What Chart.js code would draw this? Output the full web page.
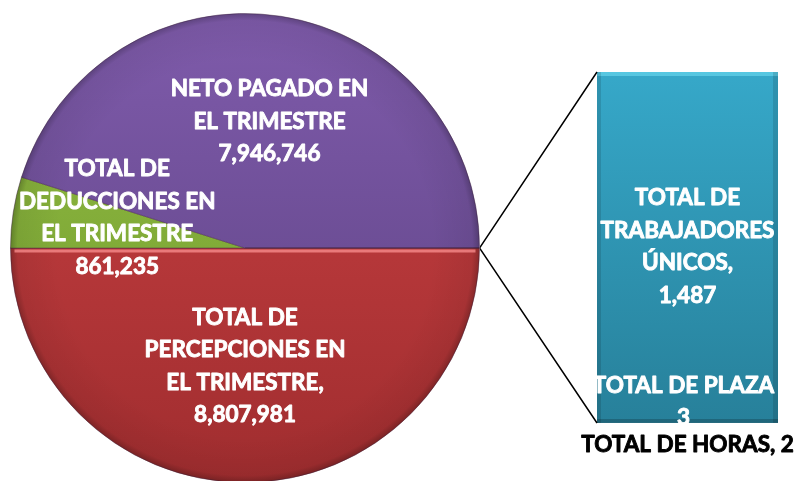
<!DOCTYPE html>
<html>
<head>
<meta charset="utf-8">
<script src="https://cdn.jsdelivr.net/npm/chart.js@4"></script>
<style>
  html, body { margin: 0; padding: 0; background: #fff; overflow: hidden; }
  #wrap { position: relative; width: 797px; height: 481px; }
  #pieCanvas { position: absolute; left: 0; top: 0; }
  #barCanvas { position: absolute; left: 480px; top: 0; }
</style>
</head>
<body>
<div id="wrap">
  <canvas id="pieCanvas" width="490" height="500"></canvas>
  <canvas id="barCanvas" width="317" height="481"></canvas>
</div>
<script>
// datos del pastel (el ultimo valor es la porcion "otro" que se abre en la barra)
let pieLabels = ['TOTAL DE PERCEPCIONES EN EL TRIMESTRE', 'TOTAL DE DEDUCCIONES EN EL TRIMESTRE', 'NETO PAGADO EN EL TRIMESTRE', 'OTRO']
let pieValues = [8807981, 861235, 7946746, 1492]
let pieText = [
    ['TOTAL DE', 'PERCEPCIONES EN', 'EL TRIMESTRE,', '8,807,981'],
    ['TOTAL DE', 'DEDUCCIONES EN', 'EL TRIMESTRE', '861,235'],
    ['NETO PAGADO EN', 'EL TRIMESTRE', '7,946,746'],
    []
]
let pieTop = ['#cc4244', '#94bd44', '#7f5bab', '#3aa6c6']
let pieBottom = ['#a02d2f', '#6e992c', '#5b4181', '#2a7e95']

// datos de la barra
let barLabels = ['TOTAL DE HORAS', 'TOTAL DE PLAZA', 'TOTAL DE TRABAJADORES ÚNICOS']
let barValues = [2, 3, 1487]
let barText = [
    ['TOTAL DE HORAS, 2'],
    ['TOTAL DE PLAZA', '3'],
    ['TOTAL DE', 'TRABAJADORES', 'ÚNICOS,', '1,487']
]

let labelFont = 'bold 22.5px Lato'
let lineH = 32.5

function drawLines(ctx, lines, cx, cy, color) {
    ctx.save()
    ctx.font = labelFont
    ctx.fillStyle = color
    ctx.strokeStyle = color
    ctx.lineWidth = 0.9
    ctx.lineJoin = 'round'
    ctx.textAlign = 'center'
    ctx.textBaseline = 'middle'
    let y0 = cy - (lines.length - 1) * lineH / 2
    lines.forEach((t, i) => {
        ctx.fillText(t, cx, y0 + i * lineH)
        ctx.strokeText(t, cx, y0 + i * lineH)
    })
    ctx.restore()
}

function sliceGradient(c) {
    let ch = c.chart
    let area = ch.chartArea
    if (!area) return pieTop[c.dataIndex]
    let g = ch.ctx.createLinearGradient(0, area.top, 0, area.bottom)
    g.addColorStop(0, pieTop[c.dataIndex])
    g.addColorStop(1, pieBottom[c.dataIndex])
    return g
}

// posicion de etiquetas: fraccion del radio y pequeño ajuste
let pieLabelR = [0.5, 0.56, 0.545, 0]
let pieLabelDx = [0, 2, 5, 0]
let pieLabelDy = [1, -10, 0, 0]

let pieLabelPlugin = {
    id: 'pieLabelPlugin',
    afterDatasetsDraw(chart) {
        let ctx = chart.ctx
        let arcs = chart.getDatasetMeta(0).data
        // borde sombreado
        let a0 = arcs[0]
        ctx.save()
        let rg = ctx.createRadialGradient(a0.x, a0.y, a0.outerRadius * 0.8, a0.x, a0.y, a0.outerRadius)
        rg.addColorStop(0, 'rgba(0,0,0,0)')
        rg.addColorStop(0.85, 'rgba(0,0,0,0.06)')
        rg.addColorStop(1, 'rgba(0,0,0,0.25)')
        ctx.fillStyle = rg
        ctx.beginPath()
        ctx.arc(a0.x, a0.y, a0.outerRadius, 0, Math.PI * 2)
        ctx.fill()
        // brillo en el borde superior de la porcion roja
        ctx.strokeStyle = 'rgba(255,150,150,0.7)'
        ctx.lineWidth = 3
        ctx.beginPath()
        ctx.moveTo(a0.x - a0.outerRadius + 4, a0.y + 3)
        ctx.lineTo(a0.x + a0.outerRadius - 4, a0.y + 3)
        ctx.stroke()
        ctx.restore()
        arcs.forEach((arc, i) => {
            if (!pieText[i].length) return
            let mid = (arc.startAngle + arc.endAngle) / 2
            let r = arc.outerRadius * pieLabelR[i]
            drawLines(ctx, pieText[i], arc.x + Math.cos(mid) * r + pieLabelDx[i], arc.y + Math.sin(mid) * r + pieLabelDy[i], '#fff')
        })
    }
}

let pieChart = new Chart(document.getElementById('pieCanvas').getContext('2d'), {
    type: 'pie',
    data: {
        labels: pieLabels,
        datasets: [{
            data: pieValues,
            backgroundColor: sliceGradient,
            borderColor: 'rgba(70,40,70,0.45)',
            borderWidth: 1
        }]
    },
    options: {
        responsive: false,
        animation: false,
        rotation: 90,
        layout: { padding: { top: 13, bottom: 17, left: 0, right: 0 } },
        plugins: { legend: { display: false }, tooltip: { enabled: false } }
    },
    plugins: [pieLabelPlugin]
})

function barGradient(c) {
    let area = c.chart.chartArea
    if (!area) return '#3aa6c6'
    let g = c.chart.ctx.createLinearGradient(0, area.top, 0, area.bottom)
    g.addColorStop(0, '#36a8c9')
    g.addColorStop(1, '#27809a')
    return g
}

let barPlugin = {
    id: 'barPlugin',
    afterDatasetsDraw(chart) {
        let ctx = chart.ctx
        let area = chart.chartArea
        // lineas de conexion desde el borde derecho del pastel
        let pa = pieChart.getDatasetMeta(0).data[3]
        let canvasLeft = document.getElementById('barCanvas').offsetLeft
        let px = pa.x + pa.outerRadius - canvasLeft
        let py = pa.y
        ctx.save()
        // bisel
        ctx.fillStyle = 'rgba(120,230,250,0.5)'
        ctx.fillRect(area.left, area.top, area.right - area.left, 4)
        ctx.fillStyle = 'rgba(0,0,0,0.12)'
        ctx.fillRect(area.left, area.top, 4, area.bottom - area.top)
        ctx.fillRect(area.right - 5, area.top, 5, area.bottom - area.top)
        ctx.fillStyle = 'rgba(0,0,0,0.2)'
        ctx.fillRect(area.left, area.bottom - 4, area.right - area.left, 4)
        ctx.strokeStyle = '#000'
        ctx.lineWidth = 1.5
        ctx.beginPath()
        ctx.moveTo(area.left, area.top)
        ctx.lineTo(px, py)
        ctx.lineTo(area.left, area.bottom)
        ctx.stroke()
        ctx.restore()
        let bars = chart.data.datasets.map((d, i) => chart.getDatasetMeta(i).data[0])
        // trabajadores: centro del segmento
        let b2 = bars[2]
        drawLines(ctx, barText[2], b2.x, (b2.y + b2.base) / 2, '#fff')
        // plaza: dentro, abajo
        let b1 = bars[1]
        drawLines(ctx, barText[1], b1.x - 4, b1.y - 20, '#fff')
        // horas: debajo de la barra
        let b0 = bars[0]
        drawLines(ctx, barText[0], b0.x, b0.base + 22, '#000')
    }
}

let barChart = new Chart(document.getElementById('barCanvas').getContext('2d'), {
    type: 'bar',
    data: {
        labels: ['OTRO'],
        datasets: barLabels.map((l, i) => ({
            label: l,
            data: [barValues[i]],
            backgroundColor: barGradient,
            borderWidth: 0,
            barPercentage: 1,
            categoryPercentage: 1
        }))
    },
    options: {
        responsive: false,
        animation: false,
        layout: { padding: { top: 72, bottom: 58, left: 117, right: 19 } },
        scales: {
            x: { stacked: true, display: false },
            y: { stacked: true, display: false, min: 0, max: barValues.reduce((a, b) => a + b, 0) }
        },
        plugins: { legend: { display: false }, tooltip: { enabled: false } }
    },
    plugins: [barPlugin]
})
</script>
</body>
</html>
